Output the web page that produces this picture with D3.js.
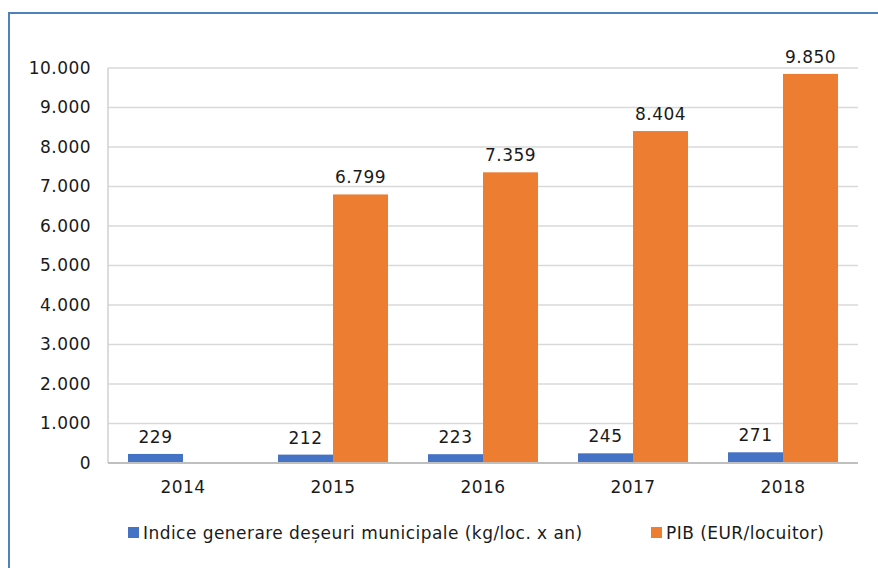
<!DOCTYPE html>
<html>
<head>
<meta charset="utf-8">
<script src="https://cdn.jsdelivr.net/npm/d3@7"></script>
<style>
  html, body { margin: 0; padding: 0; background: #fff; }
  svg { display: block; }
  text { font-family: "DejaVu Sans", Verdana, sans-serif; fill: #1a1a1a; letter-spacing: 0.45px; }
</style>
</head>
<body>
<svg id="chart" width="878" height="568"></svg>
<script>
// Years on the category axis
const years = ["2014", "2015", "2016", "2017", "2018"];
// Municipal waste generation index (kg/inhabitant x year)
const waste = [229, 212, 223, 245, 271];
// GDP per inhabitant (EUR); no value for 2014
const gdp = [null, 6799, 7359, 8404, 9850];
// Value axis ticks
const yTicks = [0, 1000, 2000, 3000, 4000, 5000, 6000, 7000, 8000, 9000, 10000];
const seriesNames = ["Indice generare deșeuri municipale (kg/loc. x an)", "PIB (EUR/locuitor)"];
const colors = ["#4472C4", "#ED7D31"];

const FS = 17;
const svg = d3.select("#chart");
const fmt = v => d3.format(",")(v).replace(/,/g, ".");

// outer frame (top and left edges show inside the canvas)
svg.append("path")
  .attr("d", "M9,568 V13 H878")
  .attr("fill", "none")
  .attr("stroke", "#4F81BD")
  .attr("stroke-width", 2);

const plotL = 108, plotR = 858, plotT = 68, plotB = 463;

const x = d3.scaleBand().domain(years).range([plotL, plotR])
  .paddingInner(40 / 150).paddingOuter(20 / 150);
const sub = d3.scaleBand().domain([0, 1]).range([0, x.bandwidth()]);
const y = d3.scaleLinear().domain([0, 10000]).range([plotB, plotT]);

// gridlines
svg.append("g").selectAll("line").data(yTicks.filter(t => t > 0)).join("line")
  .attr("x1", plotL).attr("x2", plotR)
  .attr("y1", d => y(d)).attr("y2", d => y(d))
  .attr("stroke", "#D9D9D9").attr("stroke-width", 1.5);

// value axis line
svg.append("line")
  .attr("x1", plotL).attr("x2", plotL).attr("y1", plotT).attr("y2", plotB)
  .attr("stroke", "#D0D0D0").attr("stroke-width", 1.5);

// tick labels
const yAxis = d3.axisLeft(y).tickValues(yTicks).tickFormat(fmt).tickSize(0).tickPadding(17);
const gy = svg.append("g").attr("transform", `translate(${plotL},0)`).call(yAxis);
gy.select(".domain").remove();
gy.selectAll("text").attr("font-size", FS).attr("font-family", "DejaVu Sans, Verdana, sans-serif").attr("fill", "#1a1a1a");

// bars
const series = [waste, gdp];
series.forEach((vals, si) => {
  const data = years.map((yr, i) => ({ yr, v: vals[i] })).filter(d => d.v != null);
  svg.append("g").selectAll("rect").data(data).join("rect")
    .attr("x", d => x(d.yr) + sub(si))
    .attr("width", sub.bandwidth())
    .attr("y", d => y(d.v))
    .attr("height", d => y(0) - y(d.v))
    .attr("fill", colors[si]);
  svg.append("g").selectAll("text").data(data).join("text")
    .attr("x", d => x(d.yr) + sub(si) + sub.bandwidth() / 2)
    .attr("y", d => y(d.v) - 11)
    .attr("text-anchor", "middle")
    .attr("font-size", FS)
    .text(d => fmt(d.v));
});

// category axis baseline
svg.append("line")
  .attr("x1", plotL).attr("x2", plotR).attr("y1", plotB).attr("y2", plotB)
  .attr("stroke", "#BFBFBF").attr("stroke-width", 2);

// category labels
const xAxis = d3.axisBottom(x).tickSize(0).tickPadding(18);
const gx = svg.append("g").attr("transform", `translate(0,${plotB})`).call(xAxis);
gx.select(".domain").remove();
gx.selectAll("text").attr("font-size", FS).attr("font-family", "DejaVu Sans, Verdana, sans-serif").attr("fill", "#1a1a1a");

// legend
const legendItems = [{ x: 128, name: seriesNames[0], c: colors[0] }, { x: 651, name: seriesNames[1], c: colors[1] }];
const lg = svg.append("g");
legendItems.forEach(it => {
  lg.append("rect").attr("x", it.x).attr("y", 527).attr("width", 11).attr("height", 11).attr("fill", it.c);
  lg.append("text").attr("x", it.x + 15).attr("y", 539).attr("font-size", FS).text(it.name);
});
</script>
</body>
</html>
